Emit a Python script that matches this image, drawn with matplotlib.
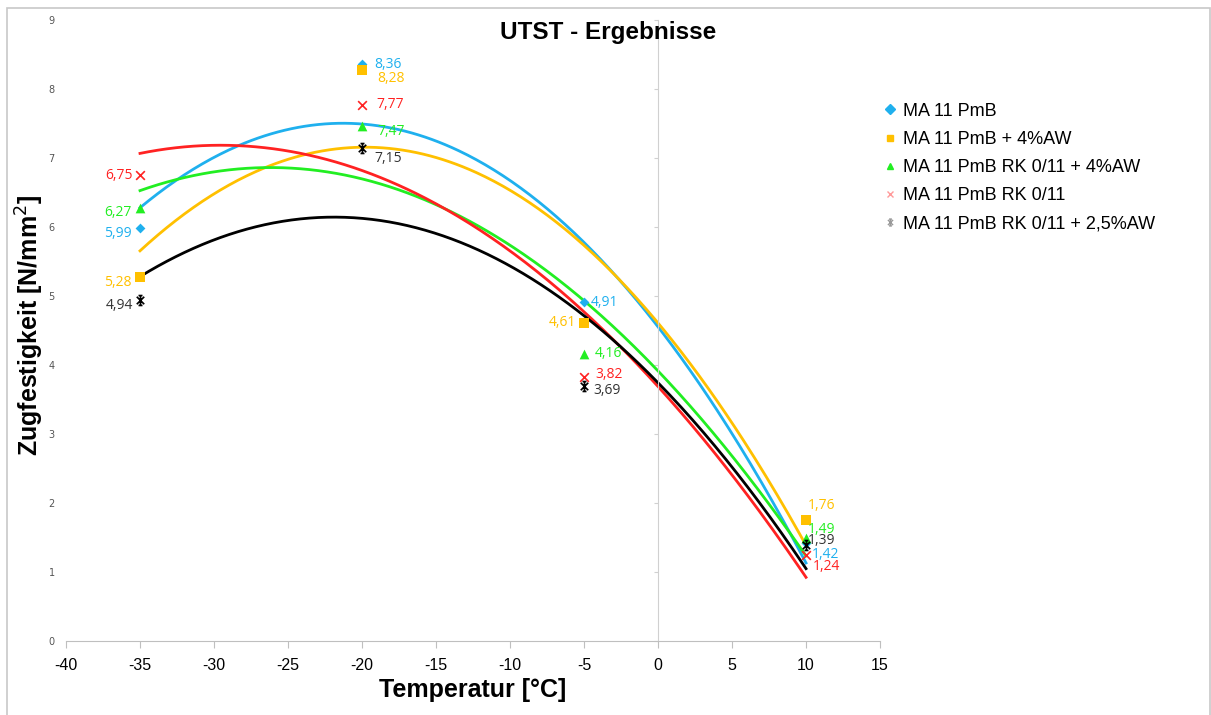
import numpy as np
import matplotlib
matplotlib.use("Agg")
import matplotlib.pyplot as plt
from matplotlib.path import Path
from matplotlib.patches import Rectangle

plt.rcParams["axes.unicode_minus"] = False

# temperatures and measured tensile strength
temps = [-35, -20, -5, 10]
names = ["MA 11 PmB", "MA 11 PmB + 4%AW", "MA 11 PmB RK 0/11 + 4%AW",
         "MA 11 PmB RK 0/11", "MA 11 PmB RK 0/11 + 2,5%AW"]
ma11 = [5.99, 8.36, 4.91, 1.42]
ma11_aw4 = [5.28, 8.28, 4.61, 1.76]
ma11_rk_aw4 = [6.27, 7.47, 4.16, 1.49]
ma11_rk = [6.75, 7.77, 3.82, 1.24]
ma11_rk_aw25 = [4.94, 7.15, 3.69, 1.39]
series = [ma11, ma11_aw4, ma11_rk_aw4, ma11_rk, ma11_rk_aw25]

# Excel-like star marker (asterisk with caps)
star = Path([(0, -1), (0, 1), (-0.75, -0.75), (0.75, 0.75), (-0.75, 0.75), (0.75, -0.75),
             (-0.4, 1), (0.4, 1), (-0.4, -1), (0.4, -1)],
            [Path.MOVETO, Path.LINETO] * 5)

colors = ["#1fb0ee", "#ffc000", "#22ee22", "#ff2222", "#000000"]
label_colors = ["#1fb0ee", "#ffc000", "#22ee22", "#ff2222", "#333333"]
legend_colors = ["#1fb0ee", "#ffc000", "#22ee22", "#ff9a9a", "#999999"]
markers = ["D", "s", "^", "x", star]
msizes = [5, 7, 7, 7, 8]

# label offsets (points) and alignment per series / point
offsets = [
    [(-6, -4, "right"), (9, 0, "left"), (5, 0, "left"), (4, -8, "left")],
    [(-6, -4, "right"), (11, -6, "left"), (-6, 0, "right"), (1, 10, "left")],
    [(-6, -3, "right"), (11, -4, "left"), (8, 0, "left"), (1, 6, "left")],
    [(-5, 0, "right"), (10, 0, "left"), (8, 2, "left"), (5, -8, "left")],
    [(-5, -4, "right"), (9, -8, "left"), (7, -3, "left"), (1, 3, "left")],
]

fig = plt.figure(figsize=(12.11, 7.15), dpi=100)
ax = fig.add_axes([0.0545, 0.1035, 0.6722, 0.8685])

xs = np.linspace(min(temps), max(temps), 300)
handles = []
for i, ys in enumerate(series):
    coef = np.polyfit(temps, ys, 2)
    ax.plot(xs, np.polyval(coef, xs), color=colors[i], lw=2, zorder=2)
    if i >= 3:
        ax.scatter(temps, ys, marker=markers[i], s=msizes[i] ** 2 * 0.8,
                   color=colors[i], linewidths=1.2, zorder=3)
    else:
        ax.scatter(temps, ys, marker=markers[i], s=msizes[i] ** 2,
                   color=colors[i], zorder=3, linewidths=0)
    h, = ax.plot([], [], ls="none", marker=markers[i], color=legend_colors[i],
                 markersize=5, mew=1)
    handles.append(h)
    for j, (t, v) in enumerate(zip(temps, ys)):
        dx, dy, ha = offsets[i][j]
        ax.annotate(f"{v:.2f}".replace(".", ","), (t, v), xytext=(dx, dy),
                    textcoords="offset points", ha=ha, va="center",
                    fontsize=10, family="Open Sans", color=label_colors[i])

ax.set_xlim(-40, 15)
ax.set_ylim(0, 9)
ax.set_xticks(range(-40, 16, 5))
ax.set_yticks(range(0, 10))

for s in ["top", "right"]:
    ax.spines[s].set_visible(False)
ax.spines["bottom"].set_color("#bfbfbf")
ax.spines["left"].set_position(("data", 0))
ax.spines["left"].set_color("#d0d0d0")
ax.tick_params(axis="x", direction="out", length=5, color="#bfbfbf",
               labelsize=11.5, pad=7)
ax.tick_params(axis="y", direction="out", length=3, color="#d0d0d0",
               labelleft=False)
for lab in ax.get_xticklabels():
    lab.set_family("Liberation Sans")

sec = ax.secondary_yaxis(0.0)
sec.spines["left"].set_visible(False)
sec.set_yticks(range(0, 10))
sec.tick_params(length=0, labelsize=7, colors="#555555", pad=8)

ax.set_xlabel("Temperatur [°C]", fontsize=18, fontweight="bold",
              family="Liberation Sans", labelpad=4)
fig.text(0.025, 0.545, "Zugfestigkeit [N/mm$^2$]", rotation=90, ha="center",
         va="center", fontsize=18, fontweight="bold", family="Liberation Sans")
fig.text(0.502, 0.954, "UTST - Ergebnisse", ha="center", va="center",
         fontsize=17.5, fontweight="bold", family="Liberation Sans")

fig.legend(handles, names, loc="upper left", bbox_to_anchor=(0.717, 0.879),
           frameon=False, prop={"family": "Liberation Sans", "size": 13},
           handlelength=0.6, handletextpad=0.4, labelspacing=0.62)

fig.add_artist(Rectangle((0.006, -0.01), 0.993, 0.999, transform=fig.transFigure,
                         fill=False, edgecolor="#c8c8c8", lw=1.2))

fig.savefig("out.png", dpi=100)
